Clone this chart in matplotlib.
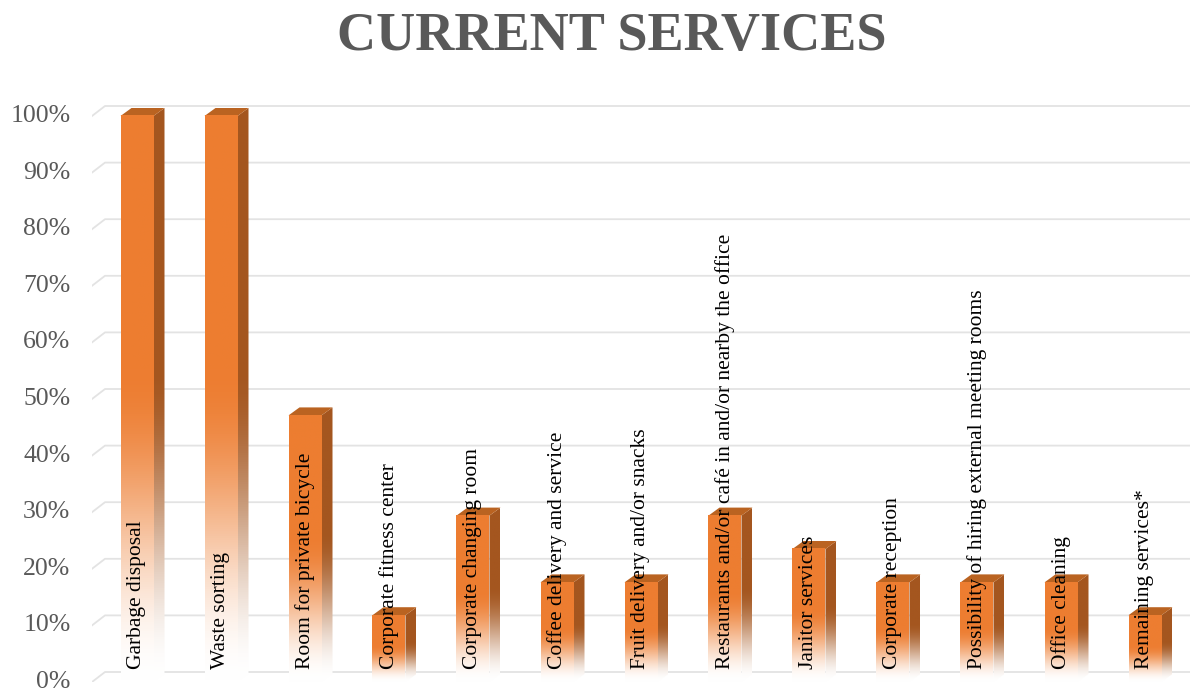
import numpy as np
import matplotlib.pyplot as plt
from matplotlib.colors import LinearSegmentedColormap, to_rgb
from matplotlib.patches import Polygon
from matplotlib.transforms import ScaledTranslation

# data (share of respondents, %)
services = [
    "Garbage disposal",
    "Waste sorting",
    "Room for private bicycle",
    "Corporate fitness center",
    "Corporate changing room",
    "Coffee delivery and service",
    "Fruit delivery and/or snacks",
    "Restaurants and/or café in and/or nearby the office",
    "Janitor services",
    "Corporate reception",
    "Possibility of hiring external meeting rooms",
    "Office cleaning",
    "Remaining services*",
]
shares = [100, 100, 47.1, 11.8, 29.4, 17.6, 17.6, 29.4, 23.5, 17.6, 17.6, 17.6, 11.8]
yticks = list(range(0, 101, 10))

SERIF = ["Liberation Serif", "DejaVu Serif"]
GREY = "#595959"
top_color = "#BA6321"


def fade_cmap(name, color, solid_from=0.55):
    # smooth fade from white at the bottom to the full colour
    c = np.array(to_rgb(color))
    white = np.ones(3)
    stops = []
    for t in np.linspace(0, 1, 41):
        u = min(t / solid_from, 1.0)
        m = u * u * (3 - 2 * u)
        stops.append((t, tuple(white + (c - white) * m)))
    return LinearSegmentedColormap.from_list(name, stops)


front_cmap = fade_cmap("front", "#ED7D31")
side_cmap = fade_cmap("side", "#A4561F")


def main():
    fig = plt.figure(figsize=(11.9, 6.93), dpi=100)
    W, H = 1190, 693
    # axes: left wall at x=92px, 0% at y=682px, 100% at y=116px
    x_left, x_right = 92, 1190
    y0, y100 = 682, 116
    ymax = 105
    top_px = y0 - (y0 - y100) * ymax / 100
    ax = fig.add_axes([x_left / W, (H - y0) / H, (x_right - x_left) / W, (y0 - top_px) / H])

    first_c, step = 137, 84
    ax.set_xlim((x_left - first_c) / step, (x_right - first_c) / step)
    ax.set_ylim(0, ymax)

    for s in ax.spines.values():
        s.set_visible(False)
    ax.set_xticks([])
    ax.set_yticks(yticks)
    ax.set_yticklabels([f"{t}%" for t in yticks], family=SERIF, fontsize=18.5, color=GREY)
    ax.tick_params(axis="y", length=0, pad=15.5)
    lift = ScaledTranslation(0, 2.5 / 100, fig.dpi_scale_trans)
    for lab in ax.get_yticklabels():
        lab.set_transform(lab.get_transform() + lift)

    # pixel depth -> data units
    px_x = ax.transData.transform((1, 0))[0] - ax.transData.transform((0, 0))[0]
    px_y = ax.transData.transform((0, 1))[1] - ax.transData.transform((0, 0))[1]
    bdx, bdy = 11 / px_x, 8 / px_y      # bar depth
    gdx, gdy = 13 / px_x, 10 / px_y     # back wall depth

    xl, xr = ax.get_xlim()
    for t in yticks:
        ax.plot([xl, xl + gdx, xr], [t, t + gdy, t + gdy], color="#E3E3E3", lw=1.3, zorder=0)

    grad = np.linspace(0, 1, 512).reshape(-1, 1)
    w = 33 / px_x
    for i, v in enumerate(shares):
        x0, x1 = i - w / 2, i + w / 2
        # side face
        side = Polygon([(x1, 0), (x1 + bdx, bdy), (x1 + bdx, v + bdy), (x1, v)],
                       closed=True, fc="none", ec="none")
        ax.add_patch(side)
        im = ax.imshow(grad, extent=(x1, x1 + bdx, 0, v + bdy), cmap=side_cmap,
                       origin="lower", aspect="auto", zorder=2, vmin=0, vmax=1)
        im.set_clip_path(side)
        # top face
        ax.add_patch(Polygon([(x0, v), (x0 + bdx, v + bdy), (x1 + bdx, v + bdy), (x1, v)],
                             closed=True, fc=top_color, ec="none", zorder=3))
        # front face
        ax.imshow(grad, extent=(x0, x1, 0, v), cmap=front_cmap, origin="lower",
                  aspect="auto", zorder=3, vmin=0, vmax=1)
        ax.text(i, 2.3, services[i], rotation=90, ha="center", va="bottom",
                family=SERIF, fontsize=15.5, color="black", zorder=5)

    ax.set_xlim(xl, xr)
    ax.set_ylim(0, ymax)

    fig.text(611.5 / W, 1 - 50 / H, "CURRENT SERVICES", ha="center", va="baseline",
             family=SERIF, fontsize=39, weight="bold", color=GREY)

    fig.savefig("out.png", dpi=100)
    plt.close(fig)


if __name__ == "__main__":
    main()
